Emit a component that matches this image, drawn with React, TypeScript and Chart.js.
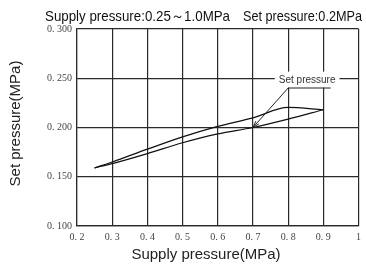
import React, { useEffect, useRef } from "react";
import { Chart, registerables } from "chart.js";

Chart.register(...registerables);

const chartTitleLeft = "Supply pressure:0.25～1.0MPa";
const chartTitleRight = "Set pressure:0.2MPa";
const xAxisTitle = "Supply pressure(MPa)";
const yAxisTitle = "Set pressure(MPa)";
const annotationText = "Set pressure";

const xTickLabels = ["0. 2", "0. 3", "0. 4", "0. 5", "0. 6", "0. 7", "0. 8", "0. 9", "1"];
const yTickLabels = ["0. 100", "0. 150", "0. 200", "0. 250", "0. 300"];

// Upper branch
const upperX = [0.25, 0.3, 0.4, 0.5, 0.6, 0.7, 0.8, 0.9];
const upperY = [0.159, 0.165, 0.178, 0.1905, 0.2012, 0.2098, 0.2204, 0.218];
// Lower branch
const lowerX = [0.25, 0.3, 0.4, 0.5, 0.6, 0.7, 0.8, 0.9];
const lowerY = [0.159, 0.1633, 0.1735, 0.1845, 0.1935, 0.2, 0.2085, 0.218];

// Annotation anchor points in data units
const arrowTip = { x: 0.7, y: 0.2 };
const leaderElbow = { x: 0.8, y: 0.2401 };
const leaderEnd = { x: 0.921, y: 0.2401 };
const labelCenter = { x: 0.854, y: 0.2476 };

const gridColor = "#2a2a2a";

export default function App() {
  const canvasRef = useRef<HTMLCanvasElement | null>(null);

  useEffect(() => {
    if (!canvasRef.current) return;

    const overlay = {
      id: "overlay",
      afterDatasetsDraw(chart: any) {
        const ctx = chart.ctx;
        const xs = chart.scales.x;
        const ys = chart.scales.y;
        const px = (v: number) => xs.getPixelForValue(v);
        const py = (v: number) => ys.getPixelForValue(v);
        ctx.save();
        ctx.font = "10px 'Liberation Sans', Arial, sans-serif";
        const tw = ctx.measureText(annotationText).width;
        const cx = px(labelCenter.x);
        const cy = py(labelCenter.y);
        ctx.fillStyle = "#ffffff";
        ctx.fillRect(cx - tw / 2 - 4, cy - 9, tw + 8, 16);
        ctx.fillStyle = "#333";
        ctx.textAlign = "center";
        ctx.textBaseline = "middle";
        ctx.fillText(annotationText, cx, cy);
        ctx.strokeStyle = "#222";
        ctx.lineWidth = 1;
        ctx.beginPath();
        ctx.moveTo(px(leaderEnd.x), py(leaderEnd.y));
        ctx.lineTo(px(leaderElbow.x), py(leaderElbow.y));
        ctx.lineTo(px(arrowTip.x), py(arrowTip.y));
        ctx.stroke();
        const tx = px(arrowTip.x);
        const ty = py(arrowTip.y);
        const ang = Math.atan2(py(leaderElbow.y) - ty, px(leaderElbow.x) - tx);
        const len = 7;
        const spread = 0.3;
        ctx.beginPath();
        ctx.moveTo(tx, ty);
        ctx.lineTo(tx + len * Math.cos(ang - spread), ty + len * Math.sin(ang - spread));
        ctx.moveTo(tx, ty);
        ctx.lineTo(tx + len * Math.cos(ang + spread), ty + len * Math.sin(ang + spread));
        ctx.stroke();
        ctx.restore();
      },
      afterDraw(chart: any) {
        const ctx = chart.ctx;
        const area = chart.chartArea;
        ctx.save();
        ctx.fillStyle = "#111";
        ctx.textBaseline = "alphabetic";
        ctx.textAlign = "left";
        ctx.font = "15px 'Liberation Sans', Arial, sans-serif";
        ctx.fillText(chartTitleLeft, 45, 20.5, 185);
        ctx.fillText(chartTitleRight, 243, 20.5, 119);
        ctx.fillStyle = "#222";
        ctx.textAlign = "center";
        ctx.textBaseline = "middle";
        ctx.fillText(xAxisTitle, 206, 255);
        ctx.translate(16, (area.top + area.bottom) / 2 - 4);
        ctx.rotate(-Math.PI / 2);
        ctx.fillText(yAxisTitle, 0, 0);
        ctx.restore();
      },
    };

    const chart = new Chart(canvasRef.current, {
      type: "line",
      data: {
        datasets: [
          {
            data: upperX.map((x, i) => ({ x, y: upperY[i] })),
            borderColor: "#111",
            borderWidth: 1.2,
            pointRadius: 0,
            fill: false,
            cubicInterpolationMode: "monotone",
          },
          {
            data: lowerX.map((x, i) => ({ x, y: lowerY[i] })),
            borderColor: "#111",
            borderWidth: 1.2,
            pointRadius: 0,
            fill: false,
            cubicInterpolationMode: "monotone",
          },
        ],
      },
      options: {
        animation: false,
        responsive: true,
        maintainAspectRatio: false,
        layout: { padding: { top: 29, right: 5, left: 0, bottom: 0 } },
        plugins: {
          legend: { display: false },
          tooltip: { enabled: false },
          title: { display: false },
        },
        scales: {
          x: {
            type: "linear",
            min: 0.2,
            max: 1.0,
            afterFit: (s: any) => {
              s.height = 42;
            },
            ticks: {
              stepSize: 0.1,
              autoSkip: false,
              maxRotation: 0,
              padding: 5,
              color: "#444",
              font: { family: "'Liberation Serif', 'DejaVu Serif', serif", size: 10 },
              callback: (_v: any, i: number) => xTickLabels[i],
            },
            grid: { color: gridColor, lineWidth: 1.2, drawTicks: false },
            border: { display: true, color: gridColor, width: 1.2 },
          },
          y: {
            type: "linear",
            min: 0.1,
            max: 0.3,
            afterFit: (s: any) => {
              s.width = 77;
            },
            ticks: {
              stepSize: 0.05,
              autoSkip: false,
              padding: 5,
              color: "#444",
              font: { family: "'Liberation Serif', 'DejaVu Serif', serif", size: 10 },
              callback: (_v: any, i: number) => yTickLabels[i],
            },
            grid: { color: gridColor, lineWidth: 1.2, drawTicks: false },
            border: { display: true, color: gridColor, width: 1.2 },
          },
        },
      },
      plugins: [overlay],
    } as any);

    return () => chart.destroy();
  }, []);

  return (
    <div style={{ position: "fixed", left: 0, top: 0, width: 366, height: 268, background: "#fff" }}>
      <canvas ref={canvasRef} />
    </div>
  );
}
